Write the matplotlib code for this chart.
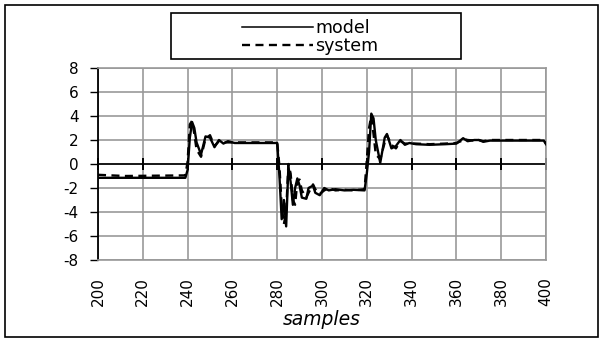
import matplotlib
matplotlib.use("Agg")
import matplotlib.pyplot as plt
from matplotlib.patches import Rectangle

plt.rcParams["font.family"] = ["DejaVu Sans"]

# --------------------------------------------------------------------------- #
# Data
# --------------------------------------------------------------------------- #
samples = [200, 212, 239, 240, 241, 242, 243, 244, 246, 248, 250, 252, 254, 256, 258, 261,
           280, 281, 282, 283, 284, 285, 286, 287, 288, 289, 290, 291, 293, 294, 296,
           297, 299, 301, 303, 306, 310, 314, 319, 320, 321, 322, 323, 324, 326, 328,
           329, 331, 333, 335, 337, 339, 342, 348, 355, 360, 362, 363, 365, 368, 370,
           372, 375, 399, 400]
model = [-1.15, -1.15, -1.15, -0.5, 2.2, 3.5, 3.0, 1.8, 0.8, 2.3, 2.2, 1.4, 2.0, 1.7, 1.9, 1.75,
         1.75, -1.0, -4.6, -3.0, -5.2, -0.2, -1.5, -3.4, -2.0, -1.2, -1.8, -2.8, -2.9, -2.0, -1.8,
         -2.4, -2.6, -2.0, -2.2, -2.1, -2.2, -2.15, -2.2, -0.8, 1.0, 4.2, 3.8, 2.0, 0.1, 2.2,
         2.5, 1.3, 1.5, 2.0, 1.6, 1.75, 1.65, 1.6, 1.65, 1.7, 2.0, 2.15, 1.9, 2.0, 2.0,
         1.85, 1.95, 1.95, 1.65]
system = [-0.9, -1.0, -0.95, 0.2, 3.3, 3.6, 2.5, 1.2, 0.6, 2.1, 2.4, 1.5, 1.9, 1.8, 1.8, 1.8,
          1.8, -0.2, -3.5, -5.0, -4.0, 0.0, -0.8, -3.0, -3.4, -1.4, -1.3, -2.2, -2.8, -2.4, -1.7,
          -2.1, -2.5, -2.2, -2.0, -2.2, -2.15, -2.2, -2.1, 0.3, 3.0, 4.0, 2.5, 0.8, 0.4, 1.8,
          2.4, 1.6, 1.3, 1.9, 1.7, 1.7, 1.7, 1.65, 1.7, 1.75, 1.9, 2.1, 2.0, 1.95, 2.0,
          1.9, 2.0, 2.0, 1.7]

x_ticks = list(range(200, 401, 20))
y_ticks = list(range(-8, 9, 2))

# --------------------------------------------------------------------------- #
# Figure
# --------------------------------------------------------------------------- #
fig = plt.figure(figsize=(6.04, 3.41), dpi=100)
fig.patches.append(Rectangle((5 / 604, 4 / 341), 593 / 604, 332 / 341,
                             transform=fig.transFigure, fill=False,
                             edgecolor="black", lw=1.2))

ax = fig.add_axes([98 / 604, 1 - 260 / 341, 448 / 604, 192 / 341])
grid_c = "#999999"

l1, = ax.plot(samples, model, color="black", lw=1.7, label="model", zorder=3)
l2, = ax.plot(samples, system, color="black", lw=1.7, ls=(0, (3.4, 2.3)), label="system",
              zorder=3)

ax.set_xlim(200, 400)
ax.set_ylim(-8, 8)
ax.set_xticks(x_ticks)
ax.set_yticks(y_ticks)
ax.set_xticklabels([str(t) for t in x_ticks], rotation=90, fontsize=11)
ax.set_yticklabels([str(t) for t in y_ticks], fontsize=11)
ax.grid(True, color=grid_c, lw=1.2)
ax.set_axisbelow(True)
ax.tick_params(axis="x", length=0, pad=12)
ax.tick_params(axis="y", length=6, width=1, color="black", pad=8)
for side in ["top", "right", "bottom"]:
    ax.spines[side].set_color(grid_c)
    ax.spines[side].set_linewidth(1.2)
ax.spines["left"].set_color("black")
ax.spines["left"].set_linewidth(1.3)
ax.set_xlabel("samples", style="italic", fontsize=13.5, labelpad=3)

# zero axis with cross ticks (Excel style)
ax.axhline(0, color="black", lw=1.2, zorder=2)
ax.plot(x_ticks, [0] * len(x_ticks), ls="none", marker="|", ms=8, mew=1.4,
        color="black", zorder=2, clip_on=False)

# legend box
fig.patches.append(Rectangle((171 / 604, 1 - 59 / 341), 290 / 604, 46 / 341,
                             transform=fig.transFigure, fill=False,
                             edgecolor="black", lw=1.2))
leg = fig.legend(handles=[l1, l2], loc="center", bbox_to_anchor=(310 / 604, 1 - 37 / 341),
                 frameon=False, fontsize=12.5, handlelength=4.1, handletextpad=0.15,
                 labelspacing=0.0, borderpad=0)
leg.legend_handles[0].set_linewidth(1.1)

fig.savefig("out.png", dpi=100)
